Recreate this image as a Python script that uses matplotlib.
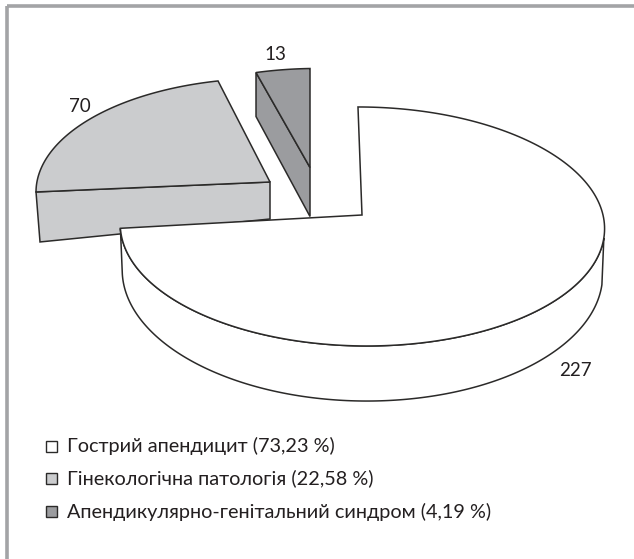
import numpy as np
import matplotlib
matplotlib.use('Agg')
import matplotlib.pyplot as plt
from matplotlib.patches import Polygon, Rectangle

# cases per diagnosis, clockwise from 12 o'clock
counts = [227, 70, 13]
labels = ['Гострий апендицит (73,23 %)',
          'Гінекологічна патологія (22,58 %)',
          'Апендикулярно-генітальний синдром (4,19 %)']
colors = ['white', '#cbccce', '#9b9c9f']

plt.rcParams['font.family'] = ['Lato', 'Open Sans', 'DejaVu Sans']

W, H = 634, 559
fig = plt.figure(figsize=(W / 100, H / 100), dpi=100)
ax = fig.add_axes([0, 0, 1, 1])
ax.set_xlim(0, W)
ax.set_ylim(H, 0)
ax.axis('off')

LINE = '#2b2a29'
TEXT = '#231f20'
PERSP = 0.096

# slice angles from the values
shares = np.array(counts) / sum(counts)
ends = 90 - 360 * np.cumsum(shares)
starts = np.concatenate(([90], ends[:-1]))


def project(theta, center, m):
    # pixel position of a rim point, with a little perspective
    t = np.radians(theta)
    u, v = np.cos(t), np.sin(t)
    w = 1 + PERSP * v
    return np.column_stack((center[0] + (m[0] * u + m[1] * v) / w,
                            center[1] + (m[2] * u + m[3] * v) / w))


def arc(a, b, center, m):
    return project(np.linspace(a, b, 200), center, m)


def poly(pts, fc):
    ax.add_patch(Polygon(pts, closed=True, fc=fc, ec=LINE, lw=1.1, joinstyle='miter'))


# slice 3 (dark)
c3 = np.array([310, 167.5])
m3 = (226.5, 0, -3.8, -108.5)
rim3 = arc(starts[2] + 360, ends[2] + 360, c3, m3)
outer3 = rim3[0]
poly([outer3, c3, c3 + [0, 49], outer3 + [0, 44]], colors[2])
poly(np.vstack((c3, rim3)), colors[2])

# slice 2 (light)
c2 = np.array([270, 182])
m2 = (232.5, 3.9, 2.8, -113.6)
rim2 = arc(starts[1] + 360, ends[1] + 360, c2, m2)
outer2 = rim2[0]
poly([outer2, c2, c2 + [0, 37], outer2 + [4, 50]], colors[1])
poly(np.vstack((c2, rim2)), colors[1])

# slice 1 (big white one) with its outer wall
c1 = np.array([362, 215])
m1 = (241, -4.4, 0, -118.4)
end1 = ends[0]
wall = arc(-11, end1, c1, m1)
t = np.radians(np.linspace(-11, end1, 200))
w = 1 + PERSP * np.sin(t)
low = wall.copy()
low[:, 0] = c1[0] + (wall[:, 0] - c1[0]) * 0.992
low[:, 1] = wall[:, 1] + 45 / w ** 2
poly(np.vstack((wall, low[::-1])), colors[0])
poly(np.vstack((c1, arc(starts[0], end1, c1, m1))), colors[0])

# value labels
ax.text(275, 54, str(counts[2]), ha='center', va='center', fontsize=13.5, color=TEXT)
ax.text(80, 106, str(counts[1]), ha='center', va='center', fontsize=13.5, color=TEXT)
ax.text(575, 370, str(counts[0]), ha='center', va='center', fontsize=13.5, color=TEXT)

# legend
for lab, col, y in zip(labels, colors, [446, 478.5, 511.5]):
    ax.add_patch(Rectangle((45.5, y - 5.5), 11, 11, fc=col, ec=LINE, lw=1.0))
    ax.text(67, y, lab, ha='left', va='center', fontsize=14.3, color=TEXT)

# frame, only the top and left sides show
ax.add_patch(Rectangle((6.5, 5.5), 640, 640, fc='none', ec='#a3a4a6', lw=2.6))

fig.savefig('out.png', dpi=100)
